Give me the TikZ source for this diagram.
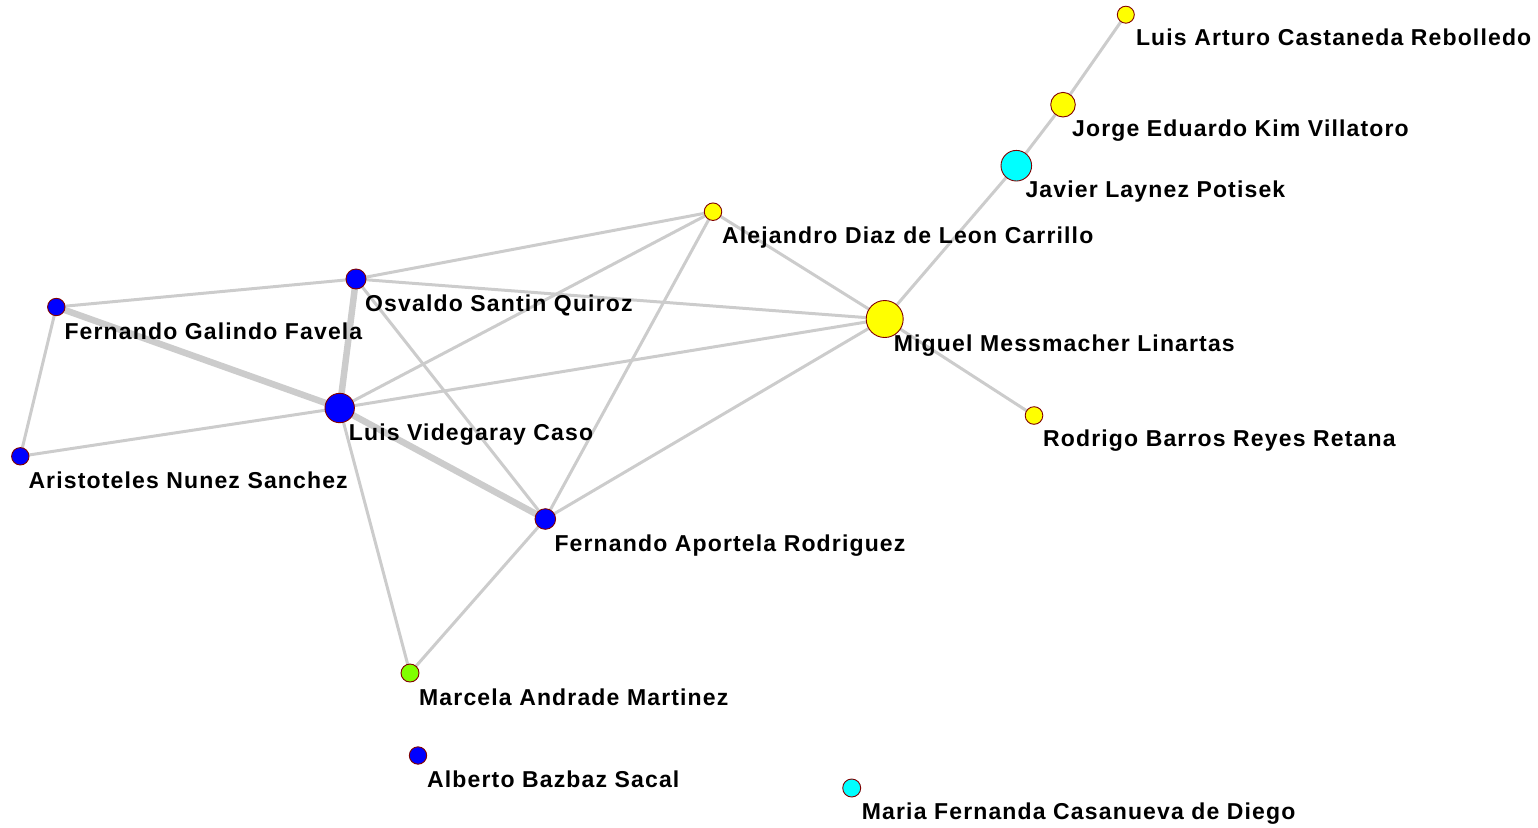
\documentclass[tikz,border=0pt]{standalone}
\usepackage{fontspec}
\setmainfont{Liberation Sans}
\newfontfamily\namefont{Liberation Sans}[LetterSpace=5.0]
\usetikzlibrary{backgrounds}
\definecolor{nodeline}{RGB}{128,0,0}
\definecolor{edgegray}{RGB}{204,204,204}
\definecolor{vyellow}{RGB}{255,255,0}
\definecolor{vblue}{RGB}{0,0,255}
\definecolor{vcyan}{RGB}{0,255,255}
\definecolor{vgreen}{RGB}{128,255,0}
\tikzset{
  vertex/.style={circle, draw=nodeline, line width=0.9pt, inner sep=0pt, minimum size=#1},
  yv/.style={vertex=#1, fill=vyellow},
  bv/.style={vertex=#1, fill=vblue},
  cv/.style={vertex=#1, fill=vcyan},
  gv/.style={vertex=#1, fill=vgreen},
  lbl/.style={anchor=base west, inner sep=0pt, font=\namefont\bfseries\fontsize{23}{23}\selectfont},
  tie/.style={draw=edgegray, line width=3pt},
  strongtie/.style={draw=edgegray, line width=6.5pt}
}
\begin{document}
\begin{tikzpicture}[x=1pt, y=-1pt]
\useasboundingbox (0,0) rectangle (1538,827);

% vertices
\node[yv=17] (cast) at (1125.8,14.7) {};
\node[yv=24.6] (kim) at (1063,104.7) {};
\node[cv=30.6] (lay) at (1016.3,165.7) {};
\node[yv=17.5] (ale) at (713,211.7) {};
\node[yv=37] (mes) at (884.7,319) {};
\node[yv=17.6] (rod) at (1034,415.5) {};
\node[bv=20] (osv) at (356,279) {};
\node[bv=17.4] (gal) at (56.3,307) {};
\node[bv=29.4] (vid) at (339.7,408) {};
\node[bv=17.4] (ari) at (20.3,456.3) {};
\node[bv=20.6] (apo) at (545.3,519) {};
\node[gv=18] (mar) at (410,673) {};
\node[bv=17.4] (baz) at (418,755.5) {};
\node[cv=18] (cas) at (851.7,788) {};

% names
\node[lbl] (tcast) at ([shift={(10,31)}]cast.center) {Luis Arturo Castaneda Rebolledo};
\node[lbl] (tkim) at ([shift={(9,32)}]kim.center) {Jorge Eduardo Kim Villatoro};
\node[lbl] (tlay) at ([shift={(9,32)}]lay.center) {Javier Laynez Potisek};
\node[lbl] (tale) at ([shift={(9,32)}]ale.center) {Alejandro Diaz de Leon Carrillo};
\node[lbl] (tmes) at ([shift={(9,32)}]mes.center) {Miguel Messmacher Linartas};
\node[lbl] (trod) at ([shift={(9,31)}]rod.center) {Rodrigo Barros Reyes Retana};
\node[lbl] (tosv) at ([shift={(9,32)}]osv.center) {Osvaldo Santin Quiroz};
\node[lbl] (tgal) at ([shift={(8,32)}]gal.center) {Fernando Galindo Favela};
\node[lbl] (tvid) at ([shift={(9,32)}]vid.center) {Luis Videgaray Caso};
\node[lbl] (tari) at ([shift={(8,32)}]ari.center) {Aristoteles Nunez Sanchez};
\node[lbl] (tapo) at ([shift={(9,32)}]apo.center) {Fernando Aportela Rodriguez};
\node[lbl] (tmar) at ([shift={(9,32)}]mar.center) {Marcela Andrade Martinez};
\node[lbl] (tbaz) at ([shift={(9,32)}]baz.center) {Alberto Bazbaz Sacal};
\node[lbl] (tcas) at ([shift={(10,31)}]cas.center) {Maria Fernanda Casanueva de Diego};

% ties
\begin{scope}[on background layer]
\draw[tie] (cast.center) -- (kim.center);
\draw[tie] (kim.center) -- (lay.center);
\draw[tie] (lay.center) -- (mes.center);
\draw[tie] (mes.center) -- (rod.center);
\draw[tie] (ale.center) -- (mes.center);
\draw[tie] (ale.center) -- (osv.center);
\draw[tie] (ale.center) -- (vid.center);
\draw[tie] (ale.center) -- (apo.center);
\draw[tie] (osv.center) -- (mes.center);
\draw[tie] (osv.center) -- (gal.center);
\draw[tie] (osv.center) -- (apo.center);
\draw[tie] (gal.center) -- (ari.center);
\draw[tie] (ari.center) -- (vid.center);
\draw[tie] (vid.center) -- (mes.center);
\draw[tie] (vid.center) -- (mar.center);
\draw[tie] (apo.center) -- (mar.center);
\draw[tie] (apo.center) -- (mes.center);
\draw[strongtie] (osv.center) -- (vid.center);
\draw[strongtie] (gal.center) -- (vid.center);
\draw[strongtie] (vid.center) -- (apo.center);
\end{scope}
\end{tikzpicture}
\end{document}
